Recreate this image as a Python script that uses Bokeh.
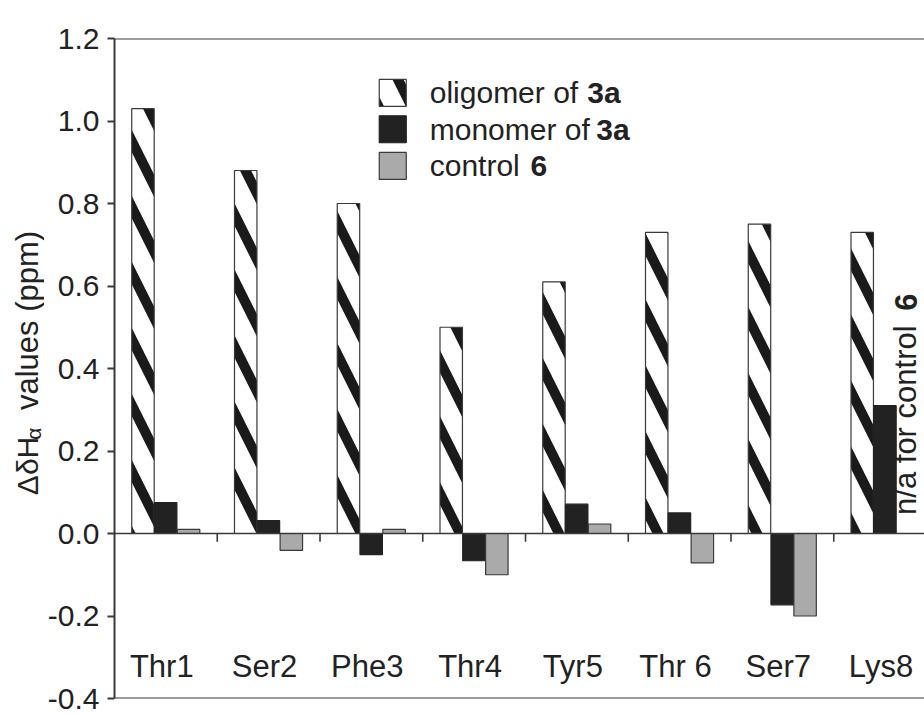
import math
import numpy as np
from bokeh.plotting import figure
from bokeh.layouts import row
from bokeh.models import Range1d, FixedTicker, NumeralTickFormatter, Span
from bokeh.core.properties import value
from bokeh.embed import file_html
from bokeh.resources import INLINE

# ---------------- data ----------------
residues = ["Thr1", "Ser2", "Phe3", "Thr4", "Tyr5", "Thr 6", "Ser7", "Lys8"]
oligomer_3a = [1.03, 0.88, 0.80, 0.50, 0.61, 0.73, 0.75, 0.73]
monomer_3a = [0.075, 0.031, -0.051, -0.066, 0.071, 0.05, -0.173, 0.31]
control_6 = [0.01, -0.041, 0.01, -0.10, 0.023, -0.071, -0.20, None]  # n/a for Lys8
y_ticks = [-0.4, -0.2, 0.0, 0.2, 0.4, 0.6, 0.8, 1.0, 1.2]
legend_names = ["oligomer of ", "monomer of ", "control "]
legend_bold = ["3a", "3a", "6"]
na_note = "n/a for control "
na_bold = "6"
ytitle_main = "ΔδH"
ytitle_sub = "α"
ytitle_rest = "values (ppm)"

FONT = "Liberation Sans"
INK = "#222222"
LINE = "#3a3a3a"
HATCH = dict(hatch_pattern="\\", hatch_color="#1a1a1a", hatch_weight=10, hatch_scale=66)

idx = np.arange(len(residues))
BAR_W = 0.2185
OFFS = [0.277, 0.498, 0.721]

# ---------------- left strip holding the y-axis title ----------------
WL = 44
t = figure(width=WL, height=714, output_backend="svg", toolbar_location=None,
           x_range=Range1d(0, WL), y_range=Range1d(0, 714),
           x_axis_type=None, y_axis_type=None,
           min_border_left=0, min_border_right=0, min_border_top=0, min_border_bottom=0)
t.outline_line_color = None
t.grid.visible = False
t.text(x=[27], y=[220], text=[ytitle_main], angle=math.pi / 2,
       text_align="left", text_baseline="middle",
       text_font=value(FONT), text_font_size="30px", text_color=INK)
t.text(x=[33], y=[280], text=[ytitle_sub], angle=math.pi / 2,
       text_align="left", text_baseline="middle",
       text_font=value(FONT), text_font_size="21px", text_color=INK)
t.text(x=[27], y=[312], text=[ytitle_rest], angle=math.pi / 2,
       text_align="left", text_baseline="middle",
       text_font=value(FONT), text_font_size="31px", text_color=INK)

# ---------------- main chart ----------------
p = figure(width=924 - WL, height=714, output_backend="svg", toolbar_location=None,
           x_range=Range1d(0, 7.883), y_range=Range1d(-0.4, 1.2),
           x_axis_type=None, min_border_left=112 - WL, min_border_top=38,
           min_border_bottom=16, min_border_right=0)
p.outline_line_color = None
p.grid.visible = False

ax = p.yaxis[0]
ax.ticker = FixedTicker(ticks=y_ticks)
ax.formatter = NumeralTickFormatter(format="0.0")
ax.major_tick_out = 7
ax.major_tick_in = 0
ax.minor_tick_line_color = None
ax.axis_line_color = LINE
ax.axis_line_width = 2
ax.major_tick_line_color = LINE
ax.major_tick_line_width = 2
ax.major_label_text_font = FONT
ax.major_label_text_font_size = "30px"
ax.major_label_text_color = INK
ax.major_label_standoff = 8

for loc in (1.2, -0.4, 0.0):
    p.add_layout(Span(location=loc, dimension="width", line_color=LINE,
                      line_width=2 if loc != 0.0 else 1.6))

bounds = idx[1:].astype(float)
p.segment(x0=bounds, y0=[0] * len(bounds), x1=bounds, y1=[-0.02] * len(bounds),
          line_color=LINE, line_width=1.6)

p.vbar(x=idx + OFFS[0], bottom=0, top=oligomer_3a, width=BAR_W,
       fill_color="white", line_color=LINE, line_width=1.2, **HATCH)
p.vbar(x=idx + OFFS[1], bottom=0, top=monomer_3a, width=BAR_W,
       fill_color="#222222", line_color="#222222", line_width=1.2)
cx = [i + OFFS[2] for i, v in zip(idx, control_6) if v is not None]
cv = [v for v in control_6 if v is not None]
p.vbar(x=cx, bottom=0, top=cv, width=BAR_W,
       fill_color="#aaaaaa", line_color=LINE, line_width=1.2)

p.text(x=idx + 0.46, y=[-0.322] * len(residues), text=residues,
       text_align="center", text_baseline="alphabetic",
       text_font=value(FONT), text_font_size="31px", text_color=INK)

# legend
leg_y = [1.068, 0.980, 0.891]
leg_x = [2.708]
p.rect(x=leg_x, y=[leg_y[0]], width=27, height=27, width_units="screen", height_units="screen",
       fill_color="white", line_color=LINE, line_width=1.2, **HATCH)
p.rect(x=leg_x, y=[leg_y[1]], width=27, height=27, width_units="screen", height_units="screen",
       fill_color="#222222", line_color="#222222", line_width=1.2)
p.rect(x=leg_x, y=[leg_y[2]], width=27, height=27, width_units="screen", height_units="screen",
       fill_color="#aaaaaa", line_color=LINE, line_width=1.2)
p.text(x=[3.068] * 3, y=leg_y, text=legend_names, text_baseline="middle",
       text_font=value(FONT), text_font_size="30px", text_color=INK)
p.text(x=[4.602, 4.689, 4.049], y=leg_y, text=legend_bold, text_baseline="middle",
       text_font=value(FONT), text_font_size="30px", text_font_style="bold", text_color=INK)

# n/a note (rotated)
p.text(x=[7.70], y=[0.045], text=[na_note], angle=math.pi / 2,
       text_align="left", text_baseline="middle",
       text_font=value(FONT), text_font_size="31px", text_color=INK)
p.text(x=[7.70], y=[0.540], text=[na_bold], angle=math.pi / 2,
       text_align="left", text_baseline="middle",
       text_font=value(FONT), text_font_size="31px", text_font_style="bold", text_color=INK)

open("out.html", "w").write(file_html(row(t, p), INLINE))
